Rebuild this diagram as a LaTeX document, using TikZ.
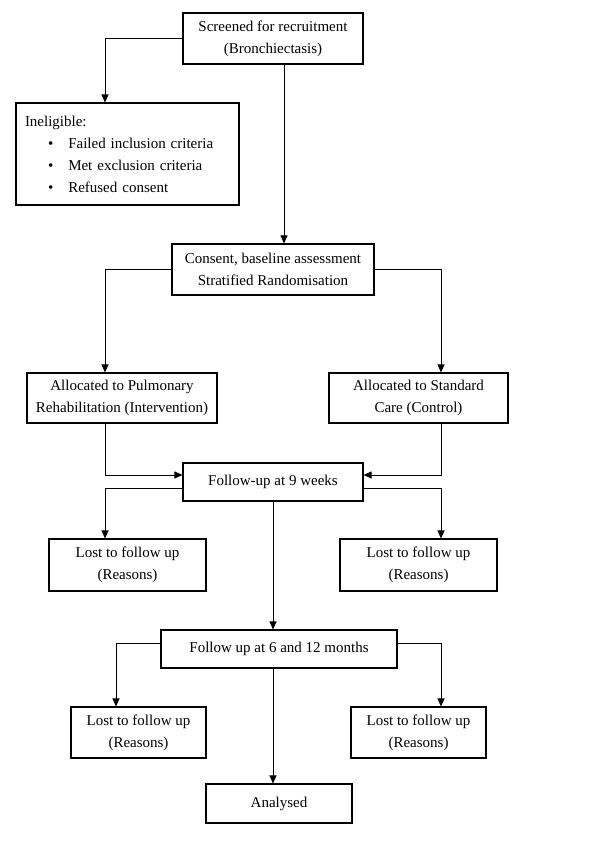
\documentclass[tikz,border=0pt]{standalone}
\usepackage{fontspec}
\setmainfont{Liberation Serif}
\usetikzlibrary{arrows.meta}

\tikzset{
  box/.style={draw, line width=1.1pt, rectangle, align=center, inner sep=0pt,
    font=\fontsize{15}{22}\selectfont},
  arr/.style={line width=1pt, -{Triangle[length=8pt,width=7pt]}},
}

\begin{document}
\begin{tikzpicture}[x=1pt,y=-1pt]
	%%%%% START %%%%%
	\useasboundingbox (0,0) rectangle (600,850);
	
	\coordinate (lcol) at (105,0);
	\coordinate (lcolb) at (116,0);
	\coordinate (mcol) at (284,0);
	\coordinate (rcol) at (441,0);
	
	\node[box, minimum width=180pt, minimum height=51pt] (screen) at (273,38.5) {Screened for recruitment\\(Bronchiectasis)};
	\node[box, align=left, text width=205pt, inner xsep=9pt, minimum height=102pt] (inelig) at (127.5,154)
		{Ineligible:\\\hspace*{23pt}\textbullet\hspace{15pt}Failed inclusion criteria\\\hspace*{23pt}\textbullet\hspace{15pt}Met exclusion criteria\\\hspace*{23pt}\textbullet\hspace{15pt}Refused consent};
	\node[box, minimum width=202pt, minimum height=51pt] (consent) at (273,269.5) {Consent, baseline assessment\\Stratified Randomisation};
	
	\node[box, minimum width=190pt, minimum height=50pt] (pr) at (122,398) {Allocated to Pulmonary\\Rehabilitation (Intervention)};
	\node[box, minimum width=179pt, minimum height=50pt] (sc) at (418.5,398) {Allocated to Standard\\Care (Control)};
	
	\node[box, minimum width=180pt, minimum height=38pt] (fu9) at (273,482) {Follow-up at 9 weeks};
	\node[box, minimum width=157pt, minimum height=52pt] (lost1) at (127.5,565) {Lost to follow up\\(Reasons)};
	\node[box, minimum width=157pt, minimum height=52pt] (lost2) at (418.5,565) {Lost to follow up\\(Reasons)};
	
	\node[box, minimum width=236pt, minimum height=38pt] (fu612) at (279,649) {Follow up at 6 and 12 months};
	\node[box, minimum width=135pt, minimum height=51pt] (lost3) at (138.5,732.5) {Lost to follow up\\(Reasons)};
	\node[box, minimum width=135pt, minimum height=51pt] (lost4) at (418.5,732.5) {Lost to follow up\\(Reasons)};
	
	\node[box, minimum width=146pt, minimum height=39pt] (analysed) at (279,803.5) {Analysed};
	
	%%%%% ARROWS %%%%%
	\draw[arr] (screen.west) -| (lcol |- inelig.north);
	\draw[arr] (mcol |- screen.south) -- (mcol |- consent.north);
	\draw[arr] (consent.west) -| (lcol |- pr.north);
	\draw[arr] (consent.east) -| (rcol |- sc.north);
	
	\draw[arr] (lcol |- pr.south) |- ([yshift=7pt]fu9.west);
	\draw[arr] (rcol |- sc.south) |- ([yshift=7pt]fu9.east);
	\draw[arr] ([yshift=-6pt]fu9.west) -| (lcol |- lost1.north);
	\draw[arr] ([yshift=-6pt]fu9.east) -| (rcol |- lost2.north);
	\draw[arr] (fu9.south) -- (fu9.south |- fu612.north);
	
	\draw[arr] ([yshift=6pt]fu612.west) -| (lcolb |- lost3.north);
	\draw[arr] ([yshift=6pt]fu612.east) -| (rcol |- lost4.north);
	\draw[arr] (fu9.south |- fu612.south) -- (fu9.south |- analysed.north);
	%%%%% END %%%%%
\end{tikzpicture}
\end{document}
